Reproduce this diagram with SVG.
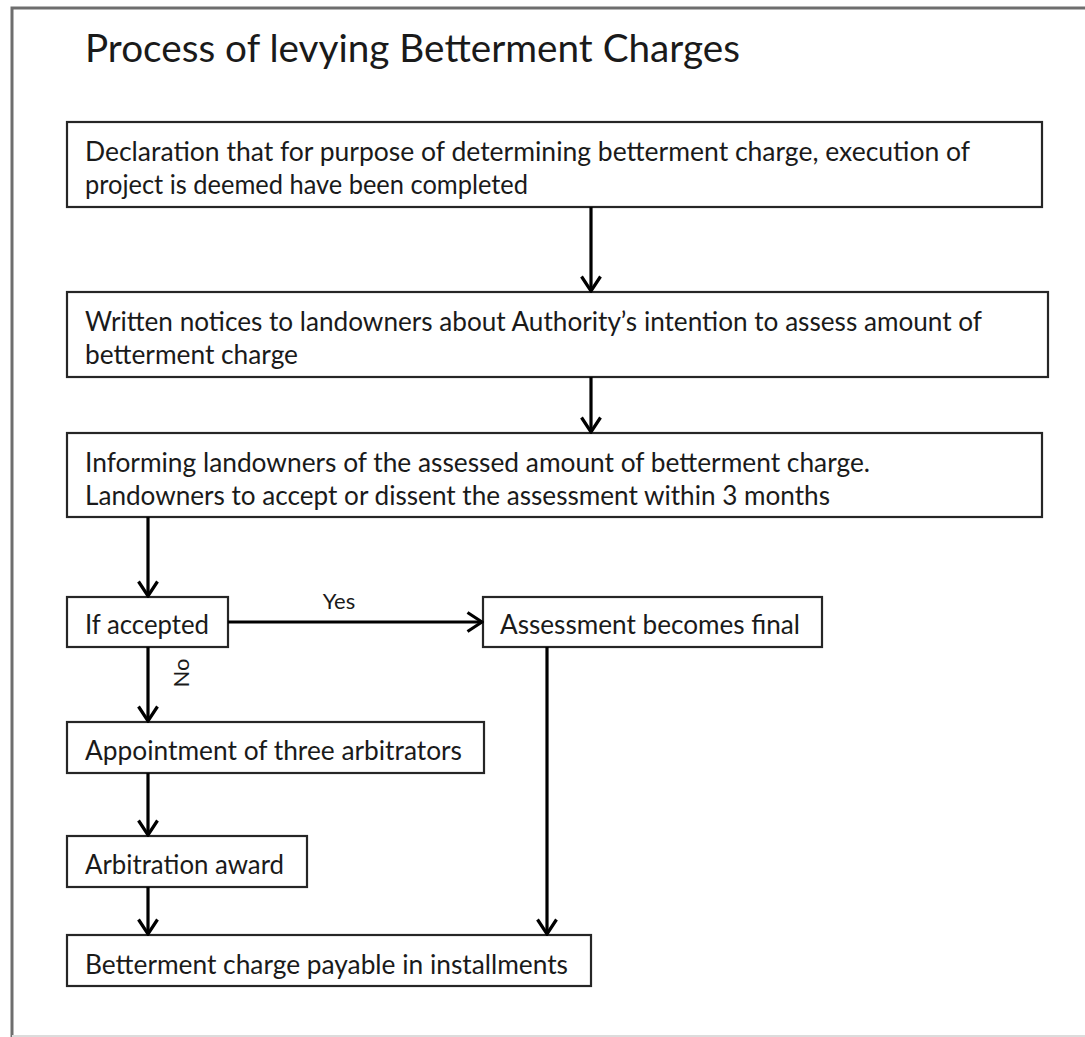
<svg xmlns="http://www.w3.org/2000/svg" width="1085" height="1037" viewBox="0 0 1085 1037">
  <defs>
    <style>
      .frame { stroke: #6e6e6e; stroke-width: 3; fill: none; }
      .box { fill: #ffffff; stroke: #262626; stroke-width: 2.2; }
      .txt { font-family: Lato, "Liberation Sans", sans-serif; font-size: 26px; fill: #1a1a1a; }
      .title { font-family: Lato, "Liberation Sans", sans-serif; font-size: 38.5px; fill: #1a1a1a; }
      .lbl { font-family: Lato, "Liberation Sans", sans-serif; font-size: 22px; fill: #1a1a1a; }
      .conn { stroke: #000000; stroke-width: 3.2; fill: none; }
    </style>
    <marker id="arrow" viewBox="0 0 18 22" refX="16" refY="11" markerWidth="18" markerHeight="22" markerUnits="userSpaceOnUse" orient="auto">
      <path d="M1.5,1.5 L16,11 L1.5,20.5" fill="none" stroke="#000" stroke-width="3.2"/>
    </marker>
  </defs>

  <rect width="1085" height="1037" fill="#ffffff"/>

  <!-- outer frame -->
  <g id="frame">
    <path class="frame" d="M12,1037 L12,8 L1085,8"/>
    <line x1="12" y1="1036" x2="1085" y2="1036" stroke="#dcdcdc" stroke-width="2"/>
  </g>

  <text class="title" x="85" y="62" textLength="655" lengthAdjust="spacingAndGlyphs">Process of levying Betterment Charges</text>

  <g id="n-declaration">
    <rect class="box" x="67" y="122" width="975" height="85"/>
    <text class="txt" x="85" y="161" textLength="885" lengthAdjust="spacingAndGlyphs">Declaration that for purpose of determining betterment charge, execution of</text>
    <text class="txt" x="85" y="194" textLength="443" lengthAdjust="spacingAndGlyphs">project is deemed have been completed</text>
  </g>

  <g id="n-notices">
    <rect class="box" x="67" y="292" width="981" height="85"/>
    <text class="txt" x="85" y="331" textLength="897" lengthAdjust="spacingAndGlyphs">Written notices to landowners about Authority’s intention to assess amount of</text>
    <text class="txt" x="85" y="364" textLength="213" lengthAdjust="spacingAndGlyphs">betterment charge</text>
  </g>

  <g id="n-informing">
    <rect class="box" x="67" y="433" width="975" height="84"/>
    <text class="txt" x="85" y="472" textLength="785" lengthAdjust="spacingAndGlyphs">Informing landowners of the assessed amount of betterment charge.</text>
    <text class="txt" x="85" y="505" textLength="745" lengthAdjust="spacingAndGlyphs">Landowners to accept or dissent the assessment within 3 months</text>
  </g>

  <g id="n-accepted">
    <rect class="box" x="67" y="597" width="161" height="50"/>
    <text class="txt" x="85" y="634" textLength="124" lengthAdjust="spacingAndGlyphs">If accepted</text>
  </g>

  <g id="n-final">
    <rect class="box" x="483" y="597" width="339" height="50"/>
    <text class="txt" x="500" y="634" textLength="300" lengthAdjust="spacingAndGlyphs">Assessment becomes final</text>
  </g>

  <g id="n-arbitrators">
    <rect class="box" x="67" y="722" width="417" height="51"/>
    <text class="txt" x="85" y="760" textLength="377" lengthAdjust="spacingAndGlyphs">Appointment of three arbitrators</text>
  </g>

  <g id="n-award">
    <rect class="box" x="67" y="836" width="240" height="51"/>
    <text class="txt" x="85" y="874" textLength="199" lengthAdjust="spacingAndGlyphs">Arbitration award</text>
  </g>

  <g id="n-payable">
    <rect class="box" x="67" y="935" width="524" height="51"/>
    <text class="txt" x="85" y="974" textLength="483" lengthAdjust="spacingAndGlyphs">Betterment charge payable in installments</text>
  </g>

  <g id="connectors">
    <line class="conn" x1="591" y1="207" x2="591" y2="291" marker-end="url(#arrow)"/>
    <line class="conn" x1="591" y1="377" x2="591" y2="432" marker-end="url(#arrow)"/>
    <line class="conn" x1="148" y1="517" x2="148" y2="596" marker-end="url(#arrow)"/>
    <line class="conn" x1="228" y1="622" x2="482" y2="622" marker-end="url(#arrow)"/>
    <text class="lbl" x="339" y="609" text-anchor="middle">Yes</text>
    <line class="conn" x1="148" y1="647" x2="148" y2="721" marker-end="url(#arrow)"/>
    <text class="lbl" transform="translate(189,673) rotate(-90)" text-anchor="middle">No</text>
    <line class="conn" x1="148" y1="773" x2="148" y2="835" marker-end="url(#arrow)"/>
    <line class="conn" x1="148" y1="887" x2="148" y2="934" marker-end="url(#arrow)"/>
    <line class="conn" x1="547" y1="647" x2="547" y2="934" marker-end="url(#arrow)"/>
  </g>
</svg>
